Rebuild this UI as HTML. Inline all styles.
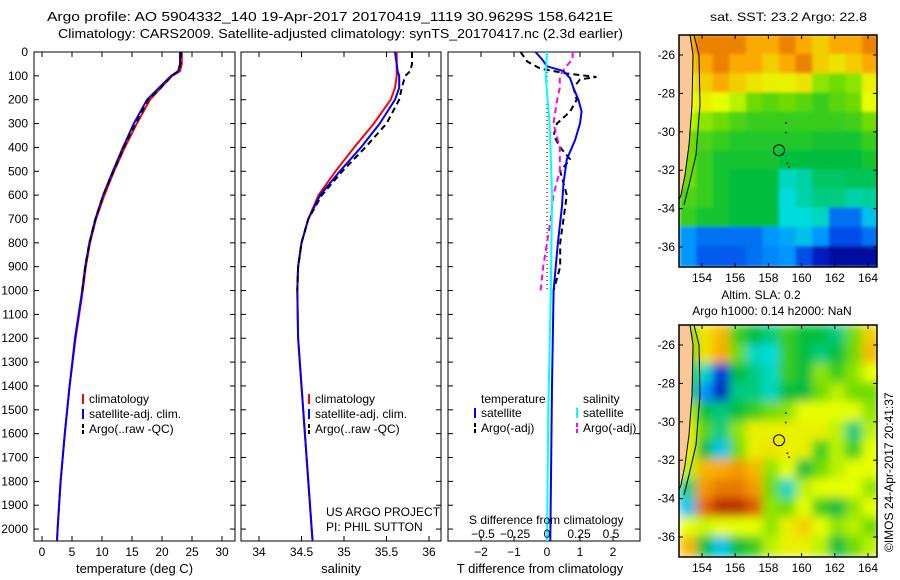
<!DOCTYPE html>
<html><head><meta charset="utf-8"><style>
body{margin:0;background:#fff}
svg{display:block;font-family:"Liberation Sans",sans-serif;font-size:12px}
</style></head><body>
<svg id="s" width="900" height="580" viewBox="0 0 900 580">
<text x="47" y="21" font-size="13" textLength="566" lengthAdjust="spacingAndGlyphs">Argo profile: AO 5904332_140 19-Apr-2017 20170419_1119 30.9629S 158.6421E</text>
<text x="58" y="38" font-size="13" textLength="565" lengthAdjust="spacingAndGlyphs">Climatology: CARS2009. Satellite-adjusted climatology: synTS_20170417.nc (2.3d earlier)</text>
<text x="710" y="21" textLength="157" lengthAdjust="spacingAndGlyphs">sat. SST: 23.2 Argo: 22.8</text>
<text x="761" y="299" text-anchor="middle">Altim. SLA: 0.2</text>
<text x="772" y="315" text-anchor="middle">Argo h1000: 0.14 h2000: NaN</text>
<text transform="translate(893,552) rotate(-90)">©IMOS 24-Apr-2017 20:41:37</text>
<g id="g"></g>
</svg>
<script>
// ---- profile data ----
const depths=[0,50,80,100,150,200,300,400,500,600,700,800,900,1000,1200,1400,1600,1800,2000,2050];
const tempClim=[23.3,23.3,23.0,21.7,19.8,18,15.8,13.8,12,10.4,9,8,7.3,6.8,5.6,4.6,3.8,3.1,2.6,2.5];
const tempSat=[23.0,23.0,22.7,21.5,19.5,17.5,15.3,13.5,11.8,10.2,8.9,7.9,7.2,6.7,5.5,4.6,3.8,3.1,2.6,2.5];
const argoDepths=[0,50,80,100,150,200,300,400,500,600,700,800,900,1000];
const tempArgo=[23.2,23.1,22.8,21.6,19.8,17.7,15.6,13.6,11.9,10.2,8.9,7.9,7.2,6.7];
const salClim=[35.62,35.62,35.62,35.62,35.6,35.55,35.35,35.12,34.9,34.7,34.58,34.5,34.46,34.45,34.46,34.5,34.54,34.58,34.62,34.63];
const salSat=[35.6,35.62,35.63,35.65,35.65,35.6,35.42,35.2,34.95,34.72,34.58,34.5,34.46,34.45,34.46,34.5,34.54,34.58,34.62,34.63];
const salArgo=[35.8,35.8,35.78,35.72,35.68,35.65,35.5,35.25,34.98,34.74,34.58,34.5,34.46,34.45];
const tdSatDepths=[0,30,60,80,110,150,200,250,300,370,450,550,650,800,1000,1400,2050];
const tdSat=[-0.35,-0.15,0.0,0.5,0.7,0.8,0.95,1.05,1.0,0.85,0.6,0.5,0.45,0.33,0.2,0.15,0.1];
const tdArgoDepths=[0,40,70,90,105,115,150,200,250,300,350,400,450,500,600,700,800,900,1000];
const tdArgo=[-0.8,-0.6,-0.2,0.6,1.5,1.0,0.8,0.9,0.7,0.3,0.2,0.4,0.7,0.4,0.6,0.5,0.4,0.4,0.2];
const sdSatDepths=[0,100,300,600,1000,1500,2050];
const sdSat=[0.0,-0.01,0.02,0.04,0.03,0.01,0.0];
const sdArgoDepths=[0,30,60,100,150,200,300,400,500,600,700,800,900,1000];
const sdArgo=[0.2,0.2,0.15,0.1,0.1,0.08,0.05,0.1,0.1,0.05,0.03,0.0,-0.03,-0.05];
const depthTicks=[0,100,200,300,400,500,600,700,800,900,1000,1100,1200,1300,1400,1500,1600,1700,1800,1900,2000];
const tempTicks=[0,5,10,15,20,25,30];
const salTicks=[34,34.5,35,35.5,36];
const tdTicks=[-2,-1,0,1,2];
const sdTicks=[-0.5,-0.25,0,0.25,0.5];
const sdTickLabels=["\u22120.5","\u22120.25","0","0.25","0.5"];
// ---- map data (colormap index 0..1) ----
const sstGrid=[
[.8,.85,.85,.85,.8,.8,.85,.8,.75,.8,.8,.85],
[.75,.8,.85,.8,.8,.75,.8,.85,.75,.72,.75,.8],
[.7,.75,.8,.75,.72,.7,.7,.72,.62,.6,.62,.7],
[.68,.7,.68,.65,.6,.58,.6,.58,.55,.58,.6,.68],
[.65,.62,.6,.57,.55,.55,.55,.55,.55,.55,.56,.6],
[.6,.57,.55,.53,.53,.53,.53,.53,.52,.52,.52,.55],
[.6,.55,.52,.52,.52,.52,.5,.5,.5,.5,.5,.52],
[.6,.55,.52,.5,.5,.5,.4,.42,.47,.47,.48,.48],
[.57,.55,.52,.5,.5,.5,.38,.42,.45,.45,.42,.43],
[.55,.52,.52,.5,.5,.5,.38,.38,.4,.25,.25,.35],
[.3,.25,.25,.25,.25,.3,.32,.35,.3,.2,.2,.25],
[.3,.22,.22,.22,.25,.28,.3,.2,.1,.05,.05,.05]];
const slaGrid=[
[.6,.72,.78,.55,.5,.45,.55,.5,.5,.45,.6,.75],
[.55,.72,.8,.6,.4,.38,.55,.5,.45,.5,.6,.78],
[.55,.4,.15,.5,.45,.4,.55,.5,.62,.55,.62,.68],
[.55,.3,.1,.45,.45,.4,.5,.5,.6,.65,.6,.6],
[.65,.5,.45,.5,.55,.6,.62,.68,.68,.68,.68,.62],
[.7,.58,.45,.62,.7,.7,.7,.7,.7,.65,.45,.65],
[.7,.5,.35,.6,.7,.72,.7,.7,.55,.65,.55,.68],
[.65,.78,.8,.82,.78,.62,.68,.5,.6,.65,.68,.68],
[.45,.82,.86,.86,.82,.6,.4,.65,.68,.68,.68,.62],
[.35,.88,.95,.95,.9,.62,.6,.68,.55,.5,.62,.68],
[.68,.66,.68,.68,.68,.62,.7,.75,.68,.62,.65,.6],
[.78,.5,.35,.5,.55,.65,.7,.7,.65,.5,.6,.65]];
const lonTicks=[154,156,158,160,162,164];
const latTicks=[-26,-28,-30,-32,-34,-36];

const NS='http://www.w3.org/2000/svg';
const G=document.getElementById('g');
function el(t,a,p){const e=document.createElementNS(NS,t);for(const k in a)e.setAttribute(k,a[k]);(p||G).appendChild(e);return e;}
const top0=52,bot=541,dmax=2050;
const yD=d=>top0+d/dmax*(bot-top0);
function lin(d0,d1,r0,r1){return v=>r0+(v-d0)/(d1-d0)*(r1-r0);}
const panels=[
 {x0:34,x1:235,f:lin(0,30,42,222),ticks:tempTicks,labs:tempTicks.map(String),title:"temperature (deg C)"},
 {x0:241,x1:441,f:lin(34,36,259,429),ticks:salTicks,labs:["34","34.5","35","35.5","36"],title:"salinity"},
 {x0:448,x1:640,f:lin(0,2,547,613),ticks:tdTicks,labs:tdTicks.map(v=>v<0?"\u2212"+(-v):String(v)),title:"T difference from climatology"}];
const sx=lin(0,0.5,547,611);
panels.forEach((p,i)=>{
  const r=el('rect',{x:p.x0,y:top0,width:p.x1-p.x0,height:bot-top0,fill:'none',stroke:'#000'});
  
  
  p.ticks.forEach((t,j)=>{const X=p.f(t);
    el('line',{x1:X,x2:X,y1:bot,y2:bot-5,stroke:'#000'});
    el('line',{x1:X,x2:X,y1:top0,y2:top0+5,stroke:'#000'});
    const tx=el('text',{x:X,y:bot+15,'text-anchor':'middle'});tx.textContent=p.labs[j];
    
    });
  const tt=el('text',{x:(p.x0+p.x1)/2+ (i==2?-4:0),y:bot+32,'text-anchor':'middle','font-size':13});tt.textContent=p.title;
  
  
  depthTicks.forEach(d=>{const Y=yD(d);
    el('line',{x1:p.x0,x2:p.x0+5,y1:Y,y2:Y,stroke:'#000'});
    el('line',{x1:p.x1,x2:p.x1-5,y1:Y,y2:Y,stroke:'#000'});});
});
depthTicks.forEach(d=>{const t=el('text',{x:28,y:yD(d)+4,'text-anchor':'end'});t.textContent=d;
  
  });
function line(xs,ds,f,col,name,dash,w){
  const pts=xs.map((v,i)=>f(v).toFixed(1)+','+yD(ds[i]).toFixed(1)).join(' ');
  const a={points:pts,fill:'none',stroke:col,'stroke-width':w||2};
  if(dash)a['stroke-dasharray']=dash;
  const e=el('polyline',a);
  
  
}
const P=panels;
line(tempClim,depths,P[0].f,'#f00','temp-climatology-line');
line(tempSat,depths,P[0].f,'#00f','temp-satellite-line');
line(tempArgo,argoDepths,P[0].f,'#000','temp-argo-line','6,4');
line(salClim,depths,P[1].f,'#f00','sal-climatology-line');
line(salSat,depths,P[1].f,'#00f','sal-satellite-line');
line(salArgo,argoDepths,P[1].f,'#000','sal-argo-line','6,4');
const z=el('line',{x1:P[2].f(0),x2:P[2].f(0),y1:top0,y2:yD(1000),stroke:'#000','stroke-dasharray':'1,3'});


line(tdArgo,tdArgoDepths,P[2].f,'#000','tdiff-argo-line','6,4');
line(sdArgo,sdArgoDepths,sx,'#f0f','sdiff-argo-line','6,4');
line(tdSat,tdSatDepths,P[2].f,'#00f','tdiff-satellite-line');
line(sdSat,sdSatDepths,sx,'#0ff','sdiff-satellite-line');
sdTicks.forEach((t,j)=>{const tx=el('text',{x:sx(t),y:538,'text-anchor':'middle'});tx.textContent=sdTickLabels[j];
  
  });
function txt(x,y,s,name,anchor){const t=el('text',{x:x,y:y});if(anchor)t.setAttribute('text-anchor',anchor);t.textContent=s;
  
  return t;}
txt(469,524,'S difference from climatology','s-diff-axis-title');
txt(326,516,'US ARGO PROJECT','project-label');
txt(326,531,'PI: PHIL SUTTON','pi-label');
function leg(x,y,col,label,dash){
  const a={x1:x,x2:x,y1:y-9,y2:y+1,stroke:col,'stroke-width':2};if(dash)a['stroke-dasharray']='4,2';
  const l=el('line',a);
  
  
  txt(x+6,y,label,'legend-entry');
}
[83,309].forEach(x=>{
  leg(x,403,'#f00','climatology');leg(x,418,'#00f','satellite-adj. clim.');leg(x,433,'#000','Argo(..raw -QC)',1);});
txt(481,403,'temperature','legend-temperature-header');
txt(583,403,'salinity','legend-salinity-header');
leg(475,417,'#00f','satellite');leg(475,432,'#000','Argo(-adj)',1);
leg(577,417,'#0ff','satellite');leg(577,432,'#f0f','Argo(-adj)',1);

// ---- maps ----
function cmap(v){
  const st=[[0,[0,0,130]],[.15,[0,40,220]],[.3,[0,150,255]],[.38,[0,220,220]],[.5,[0,190,60]],[.6,[110,220,0]],[.68,[230,255,0]],[.8,[250,170,0]],[.9,[220,90,0]],[1,[150,0,0]]];
  for(let i=1;i<st.length;i++)if(v<=st[i][0]){const a=st[i-1],b=st[i],t=(v-a[0])/(b[0]-a[0]);
    return 'rgb('+a[1].map((c,k)=>Math.round(c+t*(b[1][k]-c))).join(',')+')';}
  return 'rgb(150,0,0)';
}
const defs=el('defs',{});
const fb=el('filter',{id:'bl',filterUnits:'userSpaceOnUse',x:600,y:0,width:300,height:580},defs);
el('feGaussianBlur',{stdDeviation:'5'},fb);
const fb2=el('filter',{id:'bl2',filterUnits:'userSpaceOnUse',x:600,y:0,width:300,height:580},defs);
el('feGaussianBlur',{stdDeviation:'1.5'},fb2);
function map(y0,grid,name,blur){
  const x0=679,x1=877,y1=y0+232;
  const lx=lin(154,164,702,868),ly=lin(-26,-36,y0+20,y0+212);
  const cid='clip'+name;
  const cp=el('clipPath',{id:cid},defs);el('rect',{x:x0,y:y0,width:x1-x0,height:y1-y0},cp);
  const outer=el('g',{'clip-path':'url(#'+cid+')'});
  const g=el('g',{filter:'url(#'+blur+')'},outer);
  
  
  grid.forEach((row,r)=>row.forEach((v,c)=>{
    const xa=lx(152.7+c),ya=ly(-25-r);
    const cell=el('rect',{x:xa-1,y:ya-1,width:lx(153.7+c)-xa+2,height:ly(-26-r)-ya+2,fill:cmap(v)},g);
    
    
  }));
  const land=el('polygon',{points:[[x0-2,y0],[690,y0],[693,y0+20],[692,y0+70],[689,y0+110],[685,y0+140],[681,y0+160],[679,y0+165],[x0-2,y0+170]].map(p=>p.join(',')).join(' '),fill:'#f9c896',stroke:'#000'},outer);
  
  
  const ring=el('polyline',{points:[[694,y0],[699,y0+20],[700,y0+70],[696,y0+120],[689,y0+150],[684,y0+170]].map(p=>p.join(',')).join(' '),fill:'none',stroke:'#000'},outer);
  
  
  const fr=el('rect',{x:x0,y:y0,width:x1-x0,height:y1-y0,fill:'none',stroke:'#000','stroke-width':1.5});
  
  
  const c=el('circle',{cx:lx(158.64),cy:ly(-30.96),r:5.5,fill:'none',stroke:'#000'});
  
  
  [[159,-29.5],[159,-30],[159.1,-31.6],[159.2,-31.8]].forEach(p=>el('rect',{x:lx(p[0]),y:ly(p[1]),width:1.5,height:1.5,fill:'#000'}));
  lonTicks.forEach(t=>{const X=lx(t);el('line',{x1:X,x2:X,y1:y1,y2:y1-4,stroke:'#000'});el('line',{x1:X,x2:X,y1:y0,y2:y0+4,stroke:'#000'});
    txt(X,y1+15,String(t),'lon-tick-label','middle');});
  latTicks.forEach(t=>{const Y=ly(t);el('line',{x1:x0,x2:x0+4,y1:Y,y2:Y,stroke:'#000'});el('line',{x1:x1,x2:x1-4,y1:Y,y2:Y,stroke:'#000'});
    txt(675,Y+4,'-'+(-t),'lat-tick-label','end');});
}
map(35,sstGrid,'sst-map','bl2');
map(325,slaGrid,'sla-map','bl');
</script>
</body></html>
